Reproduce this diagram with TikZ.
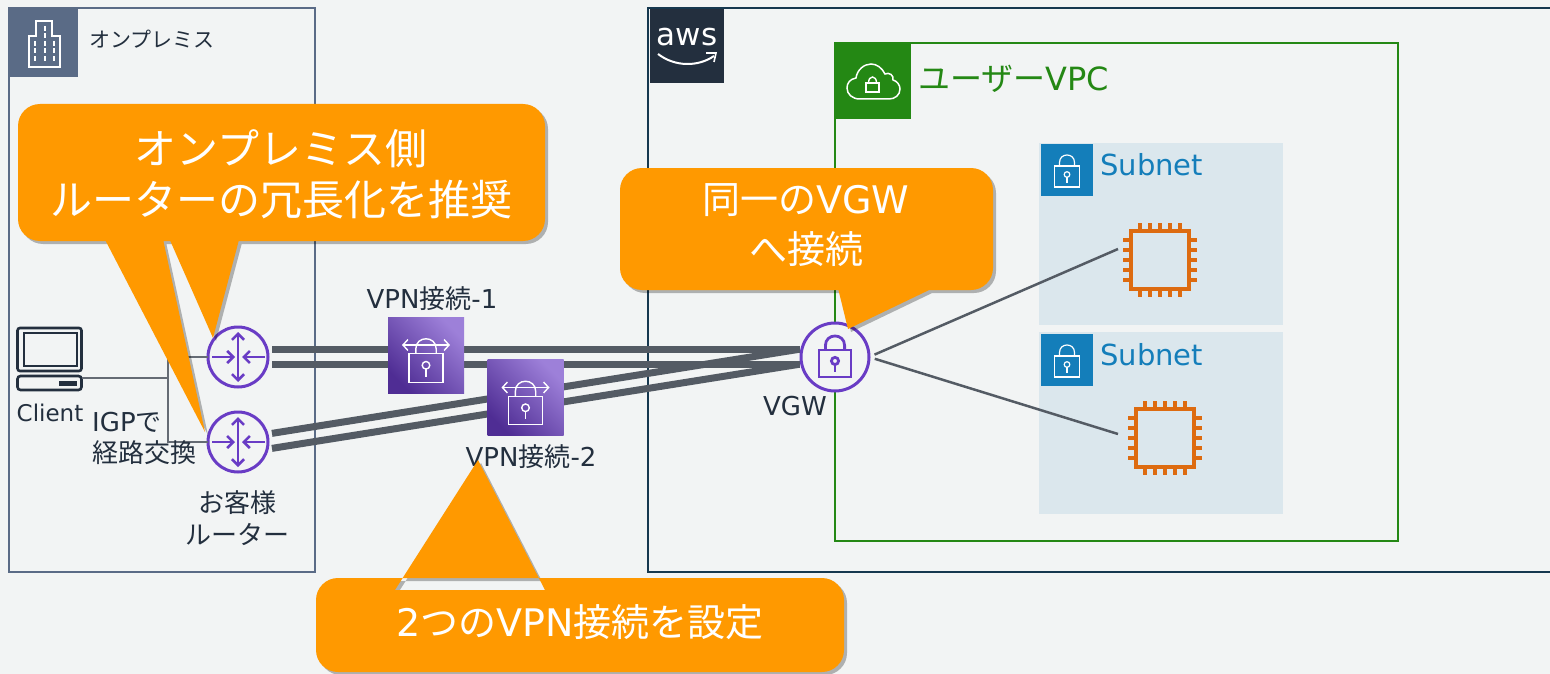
\documentclass[tikz,border=0pt]{standalone}
\usepackage{fontspec}
\setmainfont{Noto Sans CJK JP}
\newfontfamily\latinfont{DejaVu Sans}
\usepackage{tikz}
\usetikzlibrary{arrows.meta,shadows}

\definecolor{pagebg}{HTML}{F2F4F4}
\definecolor{ink}{HTML}{232F3E}
\definecolor{onpremblue}{HTML}{5A6B86}
\definecolor{awsline}{HTML}{16384F}
\definecolor{vpcgreen}{HTML}{248814}
\definecolor{subnetbg}{HTML}{DBE7ED}
\definecolor{subnetblue}{HTML}{147EBA}
\definecolor{chiporange}{HTML}{DD6B10}
\definecolor{vpnpurple}{HTML}{693CC5}
\definecolor{tunnelgray}{HTML}{545B64}
\definecolor{calloutorange}{HTML}{FF9900}

\newcommand{\en}[1]{{\latinfont #1}}

\newcommand{\padlock}[4]{
\begin{scope}[shift={(#1)},scale=#2]
\draw [#3,line width=#4] (-12.5,-10.5) rectangle (12.5,10.5);
\draw [#3,line width=#4] (-7.5,-10.5) -- (-7.5,-14) .. controls (-7.5,-24) and (7.5,-24) .. (7.5,-14) -- (7.5,-10.5);
\draw [#3,line width=#4] (0,-2) circle [radius=2.8];
\draw [#3,line width=#4] (0,0.8) -- (0,6.5);
\end{scope}
}

\newcommand{\chippins}[1]{
\begin{scope}[shift={(#1)}]
\draw [pinline] (-20,-37) -- (-20,-29) (-10,-37) -- (-10,-29) (0,-37) -- (0,-29) (10,-37) -- (10,-29) (20,-37) -- (20,-29);
\draw [pinline] (-20,29) -- (-20,37) (-10,29) -- (-10,37) (0,29) -- (0,37) (10,29) -- (10,37) (20,29) -- (20,37);
\draw [pinline] (-37,-20) -- (-29,-20) (-37,-10) -- (-29,-10) (-37,0) -- (-29,0) (-37,10) -- (-29,10) (-37,20) -- (-29,20);
\draw [pinline] (29,-20) -- (37,-20) (29,-10) -- (37,-10) (29,0) -- (37,0) (29,10) -- (37,10) (29,20) -- (37,20);
\end{scope}
}

\newcommand{\routerarrows}[1]{
\begin{scope}[shift={(#1)}]
\draw [arrowline,-{Straight Barb[length=6pt,width=12pt]}] (-26,0) -- (-3,0);
\draw [arrowline,-{Straight Barb[length=6pt,width=12pt]}] (27,0) -- (4,0);
\draw [arrowline,{Straight Barb[length=6pt,width=12pt]}-{Straight Barb[length=6pt,width=12pt]}] (0,-25) -- (0,25);
\end{scope}
}

\newcommand{\vpnglyph}[1]{
\padlock{[yshift=-13pt]#1}{1.36}{draw=white}{1.4pt}
\begin{scope}[shift={(#1)}]
\draw [white,line width=1.4pt,{Straight Barb[length=5pt,width=11pt]}-{Straight Barb[length=5pt,width=11pt]}] (-24,-10) -- (24,-10);
\end{scope}
}

\begin{document}

\begin{tikzpicture}[x=1pt,y=-1pt,line join=miter,
  frameline/.style={line width=2.5pt},
  caption/.style={font=\fontsize{26}{32}\selectfont,text=ink,inner sep=0pt},
  bigtext/.style={font=\fontsize{42}{51}\selectfont,text=white,inner sep=0pt,align=center},
  squareicon/.style={minimum size=#1,inner sep=0pt,outer sep=0pt},
  router/.style={circle,draw=vpnpurple,line width=3pt,fill=pagebg,minimum size=60pt,inner sep=0pt,outer sep=0pt},
  arrowline/.style={draw=vpnpurple,line width=2.6pt},
  tunnel/.style={draw=tunnelgray,line width=7pt},
  wire/.style={draw=tunnelgray!90!white,line width=2.2pt},
  thinlink/.style={draw=tunnelgray,line width=2.5pt},
  chip/.style={draw=chiporange,line width=3.5pt,minimum size=58pt,inner sep=0pt,outer sep=0pt},
  pinline/.style={draw=chiporange,line width=3.5pt},
  vpnbox/.style={minimum size=76pt,inner sep=0pt,outer sep=0pt,shading=axis,bottom color=vpnpurple!75!black,top color=vpnpurple!65!white,shading angle=-45},
  callout/.style={fill=calloutorange,drop shadow={shadow xshift=3pt,shadow yshift=-3pt,opacity=.28,fill=black}}]

\useasboundingbox (0,0) rectangle (1550,674);
\fill [pagebg] (0,0) rectangle (1550,674);

\draw [frameline,onpremblue] (9,8) rectangle (315,572);
\node [squareicon=69pt,fill=onpremblue] (iconOnprem) at (43.5,43) {};
\draw [white,line width=1.2pt] (29,67) -- (29,36) -- (36,36) -- (36,21) -- (52,21) -- (52,36) -- (60,36) -- (60,67) -- cycle;
\draw [white,line width=1.4pt,dash pattern=on 5pt off 2.5pt] (35,41) -- (35,63);
\draw [white,line width=1.4pt,dash pattern=on 5pt off 2.5pt] (45,26) -- (45,63);
\draw [white,line width=1.4pt,dash pattern=on 5pt off 2.5pt] (54,41) -- (54,63);
\node [caption,font=\fontsize{21}{26}\selectfont,anchor=west] (textOnprem) at (89,39) {オンプレミス};

\draw [line width=2.2pt,awsline] (1550,8) -- (648,8) -- (648,572) -- (1550,572);
\node [squareicon=74pt,fill=ink] (iconAws) at (687,46) {};
\node [inner sep=0pt,text=white,font=\fontsize{31}{31}\selectfont\latinfont] (textAws) at (687,37) {aws};
\draw [white,line width=2pt] (658,54) .. controls (675,67) and (698,67) .. (714,56);
\draw [white,line width=1.6pt] (706,53) -- (716,53) -- (714,62);

\draw [frameline,vpcgreen] (835,43) rectangle (1398,541);
\node [squareicon=76pt,fill=vpcgreen] (iconVpc) at (873,81) {};
\draw [white,line width=1.5pt] (860,99) .. controls (852,99) and (847,94) .. (847,88) .. controls (847,83) and (850,79) .. (856,78) .. controls (857,70) and (864,64) .. (871,64) .. controls (877,64) and (882,68) .. (885,74) .. controls (889,72) and (894,75) .. (893,80) .. controls (897,81) and (900,85) .. (900,89) .. controls (900,95) and (895,99) .. (889,99) -- cycle;
\draw [white,line width=1.4pt] (866,83) rectangle (879,92);
\draw [white,line width=1.4pt] (868.5,83) .. controls (868.5,75) and (876.5,75) .. (876.5,83);
\node [caption,text=vpcgreen,font=\fontsize{32}{38}\selectfont,anchor=west] (textVpc) at (918,79) {ユーザー\en{VPC}};

\fill [subnetbg] (1039,143) rectangle (1283,325);
\node [squareicon=52pt,fill=subnetblue] (iconSubnetA) at (1067,170) {};
\padlock{1067,176.5}{1}{draw=white}{1.2pt}
\node [caption,text=subnetblue,font=\fontsize{29}{34}\selectfont\latinfont,anchor=west] (textSubnetA) at (1100,165) {Subnet};

\fill [subnetbg] (1039,332) rectangle (1283,514);
\node [squareicon=52pt,fill=subnetblue] (iconSubnetB) at (1067,360) {};
\padlock{1067,366.5}{1}{draw=white}{1.2pt}
\node [caption,text=subnetblue,font=\fontsize{29}{34}\selectfont\latinfont,anchor=west] (textSubnetB) at (1100,355) {Subnet};

\node [chip] (chipA) at (1160,260) {};
\chippins{chipA}
\node [chip] (chipB) at (1165,438) {};
\chippins{chipB}

\node [router] (routerA) at (238,357) {};
\node [router] (routerB) at (238,442) {};
\node [circle,draw=vpnpurple,line width=3pt,fill=pagebg,minimum size=68pt,inner sep=0pt,outer sep=0pt] (nodeVGW) at (835,357) {};
\padlock{835,363.5}{1.28}{draw=vpnpurple}{2.8pt}
\routerarrows{routerA}
\routerarrows{routerB}

\draw [tunnel,shorten <=4pt,shorten >=1pt] ([yshift=7.5pt]routerA.east) -- ([yshift=7.5pt]nodeVGW.west);
\draw [tunnel,shorten <=4pt,shorten >=1pt] ([yshift=-7.5pt]routerA.east) -- ([yshift=-7.5pt]nodeVGW.west);
\draw [tunnel,shorten <=4pt,shorten >=3pt] ([yshift=8pt]routerB.east) -- ([yshift=8pt]nodeVGW.west);
\draw [tunnel,shorten <=4pt,shorten >=3pt] ([yshift=-7pt]routerB.east) -- ([yshift=-7pt]nodeVGW.west);

\coordinate (chipEndA) at (1118,249);
\coordinate (chipEndB) at (1118,434);
\draw [thinlink,shorten <=6pt] (nodeVGW.east) -- (chipEndA);
\draw [thinlink,shorten <=6pt] (nodeVGW.east) -- (chipEndB);

\node [vpnbox] (vpnA) at (426,355) {};
\vpnglyph{vpnA}
\node [vpnbox] (vpnB) at (525.5,397.5) {};
\vpnglyph{vpnB}

\draw [ink,line width=2.6pt,rounded corners=2.5pt] (17.5,328) rectangle (81.5,371);
\draw [ink,line width=2.6pt] (24,333) rectangle (77,366);
\node [draw=ink,line width=2.6pt,rounded corners=3pt,minimum width=64pt,minimum height=14pt,inner sep=0pt,outer sep=0pt] (clientKey) at (49.5,383) {};
\fill [ink] (59,381) rectangle (77,385.5);

\coordinate (wireJoint) at (168,378);
\draw [wire] (clientKey.east |- wireJoint) -- (wireJoint);
\draw [wire] (routerA.west) -| (wireJoint);
\draw [wire] (routerB.west) -| (wireJoint);

\node [caption,font=\fontsize{23}{28}\selectfont\latinfont] (textClient) at (50,413) {Client};
\node [caption,align=left,anchor=north west,font=\fontsize{26}{31}\selectfont] (textIgp) at (92,412) {\en{IGP}で\\経路交換};
\node [caption,align=center] (textRouter) at (237,518) {お客様\\ルーター};
\node [caption] (textVpnA) at (432,299) {\en{VPN}接続\en{-1}};
\node [caption] (textVpnB) at (531,457) {\en{VPN}接続\en{-2}};
\node [caption] (textVGW) at (795,406) {\en{VGW}};

\path [callout] [rounded corners=22pt] (18,104) rectangle (545,241) [sharp corners] (100,230) -- (205,432) -- (161,230) -- cycle (165.5,230) -- (213,338) -- (241.6,230) -- cycle;
\node [bigtext] (textCalloutA) at (281,174) {オンプレミス側\\ルーターの冗長化を推奨};

\path [callout] [rounded corners=22pt] (620,168) rectangle (993,290) [sharp corners] (836,280) -- (848,329) -- (950,280) -- cycle;
\node [bigtext,font=\fontsize{38}{50}\selectfont] (textCalloutB) at (806,225) {同一の\en{VGW}\\へ接続};

\path [callout] [rounded corners=22pt] (316,578) rectangle (844,672) [sharp corners] (395,590) -- (478,460) -- (545,590) -- cycle;
\node [bigtext,font=\fontsize{38}{46}\selectfont] (textCalloutC) at (580,622) {\en{2}つの\en{VPN}接続を設定};

\end{tikzpicture}

\end{document}
